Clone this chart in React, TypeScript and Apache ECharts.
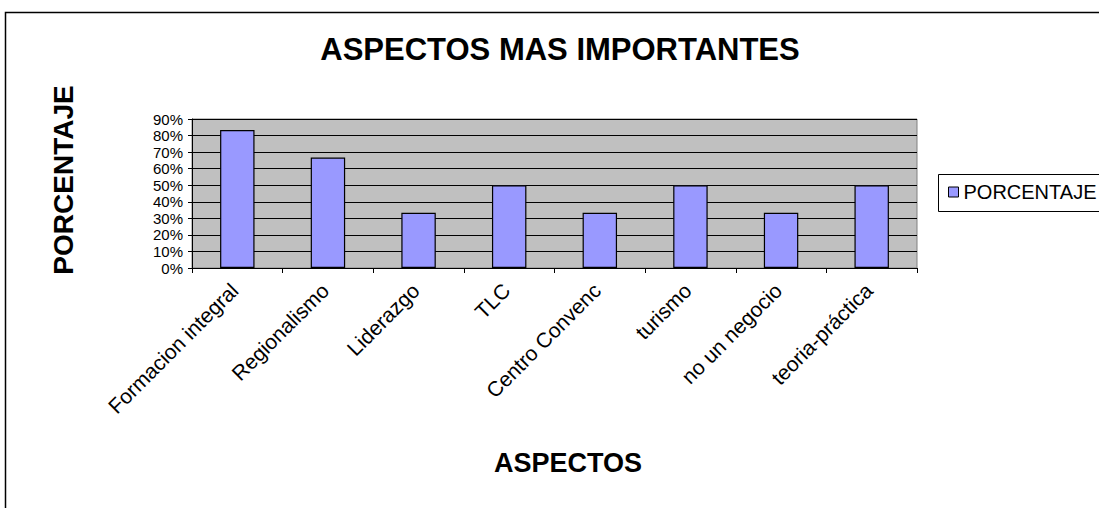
import React, { useEffect, useRef } from "react";
import * as echarts from "echarts";

const categories = [
  "Formacion integral",
  "Regionalismo",
  "Liderazgo",
  "TLC",
  "Centro Convenc",
  "turismo",
  "no un negocio",
  "teoria-práctica",
];
const porcentaje = [83.33, 66.67, 33.33, 50, 33.33, 50, 33.33, 50];
const yTicks = { min: 0, max: 90, interval: 10 };
const chartTitle = "ASPECTOS MAS IMPORTANTES";
const xTitle = "ASPECTOS";
const yTitle = "PORCENTAJE";
const seriesName = "PORCENTAJE";

const FONT = '"Liberation Sans", Arial, Helvetica, sans-serif';

export default function App() {
  const ref = useRef<HTMLDivElement>(null);
  useEffect(() => {
    document.body.style.margin = "0";
    const chart = echarts.init(ref.current!, null, { renderer: "svg" });
    chart.setOption({
      animation: false,
      backgroundColor: "#ffffff",
      textStyle: { fontFamily: FONT },
      grid: {
        left: 192,
        right: 182,
        top: 119,
        bottom: 240,
        show: true,
        backgroundColor: "#c0c0c0",
        borderColor: "#808080",
        borderWidth: 1,
      },
      legend: {
        show: true,
        data: [seriesName],
        left: 948,
        top: 182,
        orient: "vertical",
        borderWidth: 0,
        padding: 0,
        itemWidth: 10,
        itemHeight: 10,
        icon: "rect",
        itemStyle: { borderColor: "#000", borderWidth: 1 },
        textStyle: { fontSize: 20, color: "#000", fontFamily: FONT },
      },
      xAxis: {
        type: "category",
        data: categories,
        axisLine: { lineStyle: { color: "#000", width: 1 } },
        axisTick: { show: true, alignWithLabel: false, length: 5, lineStyle: { color: "#000" } },
        axisLabel: {
          interval: 0,
          rotate: 45,
          fontSize: 21,
          color: "#000",
          margin: 16,
          padding: [0, 4, 0, 0],
          fontFamily: FONT,
        },
      },
      yAxis: {
        type: "value",
        min: yTicks.min,
        max: yTicks.max,
        interval: yTicks.interval,
        axisLine: { show: true, lineStyle: { color: "#000", width: 1 } },
        axisTick: { show: true, length: 4, lineStyle: { color: "#000" } },
        axisLabel: {
          formatter: "{value}%",
          fontSize: 15,
          color: "#000",
          margin: 9,
          fontFamily: FONT,
        },
        splitLine: { show: true, lineStyle: { color: "#000", width: 1 } },
      },
      series: [
        {
          name: seriesName,
          type: "bar",
          data: porcentaje,
          barWidth: "38%",
          itemStyle: { color: "#9999ff", borderColor: "#000", borderWidth: 1.2 },
        },
      ],
      graphic: [
        {
          type: "rect",
          left: 3,
          top: 10,
          shape: { x: 0, y: 0, width: 1200, height: 600 },
          style: { fill: "none", stroke: "#000", lineWidth: 1.5 },
          silent: true,
          z: -1,
        },
        {
          type: "rect",
          shape: { x: 938.5, y: 174.5, width: 200, height: 37 },
          style: { fill: "#fff", stroke: "#000", lineWidth: 1 },
          silent: true,
          z: -1,
        },
        {
          type: "text",
          x: 560,
          y: 49,
          style: {
            text: chartTitle,
            fontSize: 31,
            fontWeight: "bold",
            fontFamily: FONT,
            fill: "#000",
            textAlign: "center",
            textVerticalAlign: "middle",
          },
        },
        {
          type: "text",
          x: 568,
          y: 463,
          style: {
            text: xTitle,
            fontSize: 27,
            fontWeight: "bold",
            fontFamily: FONT,
            fill: "#000",
            textAlign: "center",
            textVerticalAlign: "middle",
          },
        },
        {
          type: "text",
          x: 63,
          y: 180,
          rotation: Math.PI / 2,
          style: {
            text: yTitle,
            fontSize: 28,
            fontWeight: "bold",
            fontFamily: FONT,
            fill: "#000",
            textAlign: "center",
            textVerticalAlign: "middle",
          },
        },
      ],
    });
    return () => chart.dispose();
  }, []);
  return (
    <div
      ref={ref}
      style={{ position: "absolute", left: 0, top: 0, width: 1099, height: 508 }}
    />
  );
}
